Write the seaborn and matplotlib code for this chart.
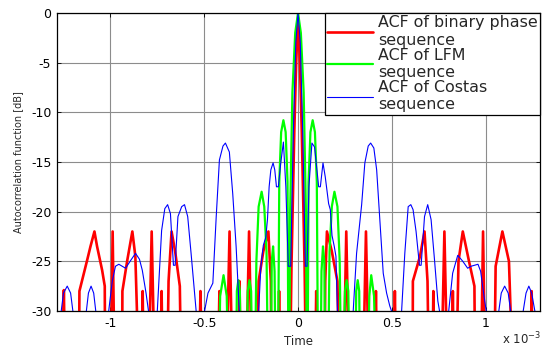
import numpy as np
import pandas as pd
import seaborn as sns
import matplotlib.pyplot as plt

# time in units of 1e-3 s, level in dB (nulls drop below the -30 dB floor)
F = -40

red_t = [-1.29, -1.258, -1.248, -1.238,
         -1.169, -1.165, -1.124, -1.106, -1.085, -1.071, -1.044, -1.030, -1.027,
         -1.0, -0.988, -0.975,
         -0.938, -0.936, -0.91, -0.883, -0.867, -0.843,
         -0.836, -0.828, -0.82,
         -0.80, -0.78, -0.76,
         -0.735, -0.727, -0.719,
         -0.70, -0.69, -0.674, -0.655, -0.63, -0.62,
         -0.532, -0.52, -0.508,
         -0.43, -0.419, -0.408,
         -0.385, -0.365, -0.345,
         -0.322, -0.312, -0.302,
         -0.28, -0.261, -0.242,
         -0.223, -0.21, -0.185, -0.158, -0.145, -0.14,
         -0.11, -0.101, -0.092,
         -0.045, -0.035, -0.02, -0.01, 0.0, 0.01, 0.02, 0.035, 0.045,
         0.088, 0.097, 0.106,
         0.14, 0.145, 0.154, 0.18, 0.21, 0.223,
         0.24, 0.257, 0.276,
         0.343, 0.362, 0.381,
         0.405, 0.415, 0.425,
         0.506, 0.516, 0.526,
         0.61, 0.612, 0.65, 0.674, 0.69, 0.70,
         0.714, 0.721, 0.728,
         0.76, 0.78, 0.80,
         0.818, 0.825, 0.832,
         0.84, 0.855, 0.878, 0.91, 0.94, 0.945,
         0.972, 0.986, 1.0,
         1.044, 1.053, 1.089, 1.124, 1.15,
         1.238, 1.245, 1.252, 1.29]
red_db = [F, F, -27.9, F,
          F, -28, -24.9, -23.5, -22, -23.5, -25.9, -27.5, F,
          F, -22, F,
          F, -28, -24.9, -22, -24.5, F,
          F, -28, F,
          F, -22, F,
          F, -28, F,
          F, -27, -22, -24, -27.5, F,
          F, -28, F,
          F, -28, F,
          F, -22, F,
          F, -27, F,
          F, -22, F,
          F, -27, -24, -22, -27, F,
          F, -28, F,
          F, -25.5, -12, -5, -0.5, -5, -12, -25.5, F,
          F, -28, F,
          F, -27, -22, -24, -27, F,
          F, -22, F,
          F, -22, F,
          F, -28, F,
          F, -28, F,
          F, -27, -24.5, -22, -27, F,
          F, -28, F,
          F, -22, F,
          F, -28, F,
          F, -25, -22, -24.9, -27.5, F,
          F, -22, F,
          F, -25.5, -22, -25, F,
          F, -28, F, F]

lfm_t = [-0.45,
         -0.427, -0.415, -0.397, -0.38, -0.368,
         -0.333, -0.326, -0.318, -0.31, -0.303,
         -0.277, -0.268, -0.259, -0.25, -0.24,
         -0.232, -0.222, -0.21, -0.194, -0.18, -0.168, -0.158,
         -0.148, -0.14, -0.133, -0.125, -0.118,
         -0.108, -0.1, -0.09, -0.078, -0.066, -0.056, -0.05,
         -0.048, -0.042, -0.03, -0.015, 0.0, 0.015, 0.03, 0.042, 0.048,
         0.05, 0.056, 0.066, 0.078, 0.09, 0.1, 0.108,
         0.118, 0.125, 0.133, 0.14, 0.148,
         0.158, 0.168, 0.18, 0.194, 0.21, 0.222, 0.232,
         0.24, 0.25, 0.259, 0.268, 0.277,
         0.303, 0.31, 0.318, 0.326, 0.333,
         0.368, 0.38, 0.39, 0.405, 0.42,
         0.45]
lfm_db = [F,
          F, -28.5, -26.4, -28.5, F,
          F, -28, -26.9, -28, F,
          F, -28, -26.9, -28, F,
          F, -25, -19.5, -18, -19.5, -24, F,
          F, -25, -23.5, -26, F,
          F, -17, -12, -10.8, -12, -17, F,
          F, -20, -8, -2, 0, -2, -8, -20, F,
          F, -17, -12, -10.8, -12, -17, F,
          F, -26, -23.5, -25, F,
          F, -24, -19.5, -18, -19.5, -25, F,
          F, -28, -26.9, -28, F,
          F, -28, -26.9, -28, F,
          F, -28.5, -26.4, -28.5, F,
          F]

costas_t = [-1.29, -1.268, -1.262, -1.25, -1.23, -1.212, -1.2, -1.195,
            -1.135, -1.128, -1.117, -1.103, -1.089, -1.078, -1.072,
            -1.015, -1.009, -0.99, -0.973, -0.955, -0.937, -0.919, -0.895, -0.866,
            -0.845, -0.83, -0.81, -0.797, -0.793,
            -0.752, -0.75, -0.727, -0.71, -0.695, -0.68, -0.664, -0.655, -0.64,
            -0.62, -0.605, -0.588, -0.57, -0.543, -0.54,
            -0.5, -0.498, -0.48, -0.454, -0.436, -0.419, -0.40, -0.387, -0.366,
            -0.348, -0.33, -0.313, -0.31,
            -0.216, -0.21, -0.198, -0.185, -0.172, -0.163, -0.154, -0.145, -0.133,
            -0.124, -0.115, -0.105, -0.092, -0.078, -0.065, -0.052, -0.039,
            -0.025, -0.012, 0.0, 0.012, 0.025,
            0.039, 0.048, 0.058, 0.074, 0.088, 0.11, 0.119, 0.133, 0.145, 0.163,
            0.172, 0.181, 0.193, 0.202, 0.21, 0.216,
            0.29, 0.294, 0.312, 0.339, 0.356, 0.374, 0.387, 0.404, 0.419, 0.436,
            0.454, 0.472, 0.489, 0.498, 0.5,
            0.548, 0.552, 0.569, 0.587, 0.601, 0.613, 0.629, 0.647, 0.656, 0.674,
            0.691, 0.709, 0.727, 0.745, 0.754, 0.76,
            0.798, 0.803, 0.824, 0.851, 0.878, 0.904, 0.922, 0.959, 0.973, 0.991,
            1.003, 1.01,
            1.065, 1.07, 1.083, 1.101, 1.12, 1.133, 1.14,
            1.195, 1.2, 1.215, 1.23, 1.245, 1.262, 1.268, 1.29]
costas_db = [F, F, -30, -28.2, -27.5, -28.2, -30, F,
             F, -30, -28.2, -27.5, -28.2, -30, F,
             F, -30, -27, -25.5, -25.3, -25.5, -25.7, -25, -24.2,
             -24.8, -25.9, -28.2, -30, F,
             F, -30, -21.9, -19.7, -19.3, -20.2, -25.4, -25.4, -20.5,
             -19.5, -19.3, -20.5, -24.2, -30, F,
             F, -30, -28.2, -27.2, -20.5, -14.8, -13.4, -13.1, -14,
             -18.2, -23.5, -30, F,
             F, -30, -25.5, -23.4, -22.6, -20.8, -17.5, -15.8, -15.1,
             -15.8, -17.5, -17.5, -15.1, -13.0, -17.5, -25.5, -25.5,
             -12, -3, 0, -3, -12,
             -25.5, -25.5, -17.5, -13.1, -13.5, -17.5, -17.5, -15.1, -16.5, -19.2,
             -19.8, -22.4, -23.5, -24.5, -30, F,
             F, -30, -24.2, -19.3, -15.1, -13.4, -13.1, -13.6, -15.8, -20.8,
             -26.2, -28.2, -29.5, -30, F,
             F, -30, -24.2, -19.5, -19.3, -19.8, -22, -25.4, -25.4, -20.5,
             -19.3, -20.8, -24.8, -29, -30, F,
             F, -30, -26.2, -24.4, -25, -25.7, -25.5, -25.3, -26, -28.5,
             -30, F,
             F, -30, -28.2, -27.5, -28.2, -30, F,
             F, -30, -28.2, -27.5, -28.2, -30, F, F]

labels = ["ACF of binary phase\nsequence", "ACF of LFM\nsequence",
          "ACF of Costas\nsequence"]

sns.set_style("ticks", {"xtick.direction": "in", "ytick.direction": "in"})
plt.rcParams["font.family"] = ["DejaVu Sans"]

fig = plt.figure(figsize=(5.42, 3.49), dpi=100)
ax = fig.add_axes([0.105, 0.109, 0.8915, 0.854])

series = [(red_t, red_db, "#ff0000", 1.9, labels[0]),
          (lfm_t, lfm_db, "#00ff00", 1.6, labels[1]),
          (costas_t, costas_db, "#0000ff", 0.8, labels[2])]
for t, db, col, lw, lab in series:
    df = pd.DataFrame({"time": t, "db": db})
    sns.lineplot(data=df, x="time", y="db", ax=ax, color=col, linewidth=lw,
                 sort=False, estimator=None, label=lab)

ax.set_xlim(-1.285, 1.29)
ax.set_ylim(-30, 0)
ax.set_xticks([-1, -0.5, 0, 0.5, 1])
ax.set_xticklabels(["-1", "-0.5", "0", "0.5", "1"])
ax.set_yticks([0, -5, -10, -15, -20, -25, -30])
ax.set_yticklabels(["0", "-5", "-10", "-15", "-20", "-25", "-30"])
ax.tick_params(axis="both", labelsize=9, length=3, width=0.6,
               top=True, right=True, pad=4, colors="black")
ax.grid(True, color="#8c8c8c", linewidth=0.8)
ax.set_axisbelow(True)
for s in ax.spines.values():
    s.set_linewidth(0.9)
    s.set_color("black")

ax.set_xlabel("Time", fontsize=8.5, labelpad=4)
ax.set_ylabel("Autocorrelation function [dB]", fontsize=7, labelpad=6)
fig.text(0.998, 0.005, r"x 10$^{-3}$", ha="right", va="bottom", fontsize=8.5)

leg = ax.legend(loc="upper right", borderaxespad=0, fontsize=11.4,
                handlelength=2.9, handletextpad=0.3, labelspacing=0.0,
                borderpad=0.15, fancybox=False, framealpha=1,
                edgecolor="black")
leg.get_frame().set_linewidth(0.9)
for txt in leg.get_texts():
    txt.set_linespacing(1.2)

fig.savefig("out.png", dpi=100)
